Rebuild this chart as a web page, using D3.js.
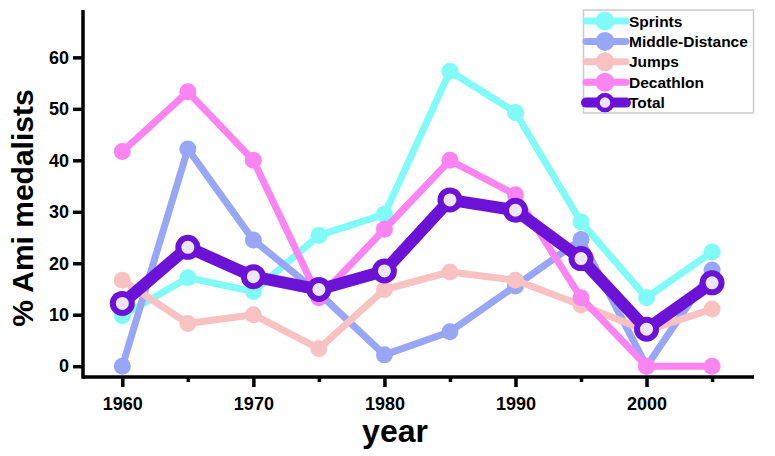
<!DOCTYPE html>
<html><head><meta charset="utf-8">
<script src="https://cdn.jsdelivr.net/npm/d3@7"></script>
<style>html,body{margin:0;padding:0;background:#fff;}svg{display:block;font-family:"Liberation Sans",Arial,sans-serif;}</style>
</head><body><div id="chart"></div>
<script>
const years = [1960,1965,1970,1975,1980,1985,1990,1995,2000,2005];
const sprints = [9.8,17.2,14.5,25.4,29.5,57.3,49.3,28.0,13.3,22.2];
const middleDistance = [0,42.2,24.5,14.2,2.2,6.7,15.6,24.6,0,18.7];
const jumps = [16.7,8.3,10.0,3.4,14.9,18.3,16.7,11.9,6.9,11.1];
const decathlon = [41.7,53.3,40.0,13.3,26.6,40.0,33.3,13.3,0,0];
const total = [12.2,23.1,17.4,14.9,18.5,32.3,30.3,20.9,7.2,16.2];
const seriesNames = ["Sprints","Middle-Distance","Jumps","Decathlon","Total"];
const yTicks = [0,10,20,30,40,50,60];
const xMajorTicks = [1960,1970,1980,1990,2000];
const xMinorTicks = [1965,1975,1985,1995,2005];

const W = 775, H = 456;
const svg = d3.select("#chart").append("svg").attr("width", W).attr("height", H);
const x = d3.scaleLinear().domain([1957, 2008.2]).range([83, 754]);
const y = d3.scaleLinear().domain([-2.1, 69.2]).range([377, 10]);

const colors = ["#80fbf8","#98a6f6","#f9c2c2","#fc84f2","#6c12d6"];
const seriesData = [sprints, middleDistance, jumps, decathlon, total];

// axes
const gx = svg.append("g").attr("transform", "translate(0,377)")
  .call(d3.axisBottom(x).tickValues(xMajorTicks).tickFormat(d3.format("d")).tickSize(10).tickSizeOuter(0));
gx.select(".domain").attr("stroke", "#000").attr("stroke-width", 3.5).attr("d", "M83,0H754");
gx.selectAll(".tick line").attr("stroke", "#000").attr("stroke-width", 3.5);
gx.selectAll(".tick text").attr("font-size", 18).attr("font-weight", "bold").attr("fill", "#000").attr("dy", 0).attr("y", 33);
svg.append("g").attr("transform", "translate(0,377)")
  .call(d3.axisBottom(x).tickValues(xMinorTicks).tickFormat("").tickSize(5).tickSizeOuter(0))
  .call(g => { g.select(".domain").remove(); g.selectAll(".tick line").attr("stroke","#000").attr("stroke-width",3.5); });

const gy = svg.append("g").attr("transform", "translate(83,0)")
  .call(d3.axisLeft(y).tickValues(yTicks).tickSize(10).tickSizeOuter(0));
gy.select(".domain").attr("stroke", "#000").attr("stroke-width", 3.5).attr("d", "M0,10V378.7");
gy.selectAll(".tick line").attr("stroke", "#000").attr("stroke-width", 3.5);
gy.selectAll(".tick text").attr("font-size", 18).attr("font-weight", "bold").attr("fill", "#000").attr("x", -14);

// axis titles
svg.append("text").attr("x", 395).attr("y", 442).attr("text-anchor", "middle")
  .attr("font-size", 32).attr("font-weight", "bold").text("year");
svg.append("text").attr("transform", "translate(33,208) rotate(-90)").attr("text-anchor", "middle")
  .attr("font-size", 30).attr("font-weight", "bold").text("% Ami medalists");

const line = d3.line().x((d,i) => x(years[i])).y(d => y(d));

seriesData.forEach((vals, k) => {
  const isTotal = k === 4;
  const g = svg.append("g");
  g.append("path").attr("d", line(vals)).attr("fill", "none").attr("stroke", colors[k])
    .attr("stroke-width", isTotal ? 12 : 7).attr("stroke-linejoin", "round");
  g.selectAll("circle").data(vals).join("circle")
    .attr("cx", (d,i) => x(years[i])).attr("cy", d => y(d))
    .attr("r", isTotal ? 9.5 : 8.5)
    .attr("fill", isTotal ? "#ece6f6" : colors[k])
    .attr("stroke", isTotal ? colors[k] : "none")
    .attr("stroke-width", isTotal ? 6 : 0);
});

// legend
const leg = svg.append("g");
leg.append("rect").attr("x", 583.5).attr("y", 10).attr("width", 170).attr("height", 103)
  .attr("fill", "#fff").attr("stroke", "#cccccc").attr("stroke-width", 1.5);
seriesNames.forEach((name, k) => {
  const isTotal = k === 4;
  const cy = 21 + k * 20.4;
  leg.append("line").attr("x1", 586).attr("x2", 626).attr("y1", cy).attr("y2", cy)
    .attr("stroke", colors[k]).attr("stroke-width", isTotal ? 10 : 7).attr("stroke-linecap", "round");
  leg.append("circle").attr("cx", 605).attr("cy", cy).attr("r", isTotal ? 7.5 : 9.5)
    .attr("fill", isTotal ? "#ece6f6" : colors[k])
    .attr("stroke", isTotal ? colors[k] : "none").attr("stroke-width", isTotal ? 4.5 : 0);
  leg.append("text").attr("x", 629).attr("y", cy).attr("dy", "0.36em")
    .attr("font-size", 15.5).attr("font-weight", "bold").attr("fill", "#000").text(name);
});
</script></body></html>
